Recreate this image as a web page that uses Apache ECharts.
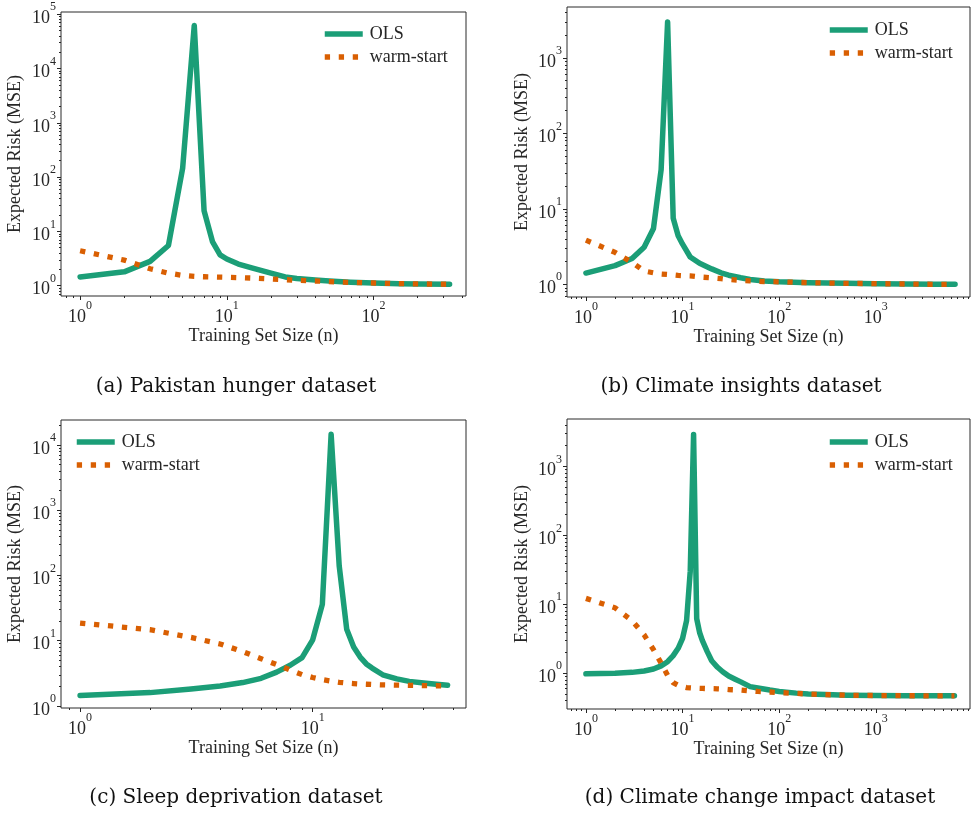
<!DOCTYPE html>
<html>
<head>
<meta charset="utf-8">
<script src="https://cdn.jsdelivr.net/npm/echarts@6/dist/echarts.min.js"></script>
<style>
  html, body { margin: 0; padding: 0; background: #ffffff; }
  #chart { width: 971px; height: 814px; }
</style>
</head>
<body>
<div id="chart"></div>
<script>
// ---- Expected risk (MSE) against training set size, four datasets ----

// (a) Pakistan hunger
const nPakistan    = [1, 2, 3, 4, 5, 6, 7, 8, 9, 10, 12, 15, 20, 25, 30, 40, 50, 70, 100, 150, 200, 330];
const olsPakistan  = [1.45, 1.8, 2.8, 5.5, 145, 62000, 24, 6.4, 3.7, 3.1, 2.5, 2.1, 1.7, 1.45, 1.36, 1.27, 1.22, 1.16, 1.12, 1.09, 1.08, 1.06];
const warmPakistan = [4.4, 2.95, 2.05, 1.7, 1.55, 1.48, 1.46, 1.45, 1.44, 1.43, 1.41, 1.38, 1.33, 1.29, 1.26, 1.22, 1.19, 1.15, 1.12, 1.09, 1.08, 1.06];

// (b) Climate insights
const nInsights    = [1, 2, 3, 4, 5, 6, 7, 8, 9, 10, 12, 15, 20, 25, 30, 40, 50, 70, 100, 200, 500, 1000, 2000, 4000, 6600];
const olsInsights  = [1.41, 1.77, 2.2, 3.1, 5.5, 33, 3000, 7.5, 4.4, 3.4, 2.3, 1.9, 1.6, 1.42, 1.32, 1.22, 1.16, 1.11, 1.08, 1.05, 1.03, 1.02, 1.01, 1.0, 1.0];
const warmInsights = [3.85, 2.65, 1.95, 1.5, 1.42, 1.37, 1.35, 1.33, 1.31, 1.3, 1.29, 1.25, 1.22, 1.19, 1.16, 1.13, 1.11, 1.09, 1.08, 1.05, 1.03, 1.02, 1.01, 1.0, 1.0];

// (c) Sleep deprivation
const nSleep    = [1, 2, 3, 4, 5, 6, 7, 8, 9, 10, 11, 12, 13, 14, 15, 16, 17, 18, 20, 23, 26, 30, 34, 38];
const olsSleep  = [1.45, 1.6, 1.82, 2.02, 2.28, 2.65, 3.3, 4.2, 5.5, 10.3, 36, 14500, 140, 15, 8, 5.6, 4.4, 3.8, 3.0, 2.6, 2.38, 2.25, 2.15, 2.07];
const warmSleep = [18.6, 14.7, 11.2, 8.9, 6.8, 5.3, 4.3, 3.55, 3.02, 2.73, 2.53, 2.4, 2.3, 2.24, 2.2, 2.17, 2.15, 2.13, 2.1, 2.08, 2.07, 2.05, 2.04, 2.03];

// (d) Climate change impact
const nImpact    = [1, 2, 3, 4, 5, 6, 7, 8, 9, 10, 11, 12, 13, 14, 15, 16, 18, 20, 23, 26, 30, 35, 40, 50, 60, 80, 100, 150, 200, 300, 500, 1000, 2000, 4000, 6500];
const olsImpact  = [0.98, 1.0, 1.03, 1.08, 1.15, 1.28, 1.47, 1.8, 2.3, 3.2, 5.8, 30, 2900, 6.2, 3.9, 3.0, 2.06, 1.52, 1.22, 1.05, 0.91, 0.82, 0.75, 0.64, 0.61, 0.57, 0.545, 0.515, 0.5, 0.49, 0.48, 0.475, 0.472, 0.47, 0.47];
const warmImpact = [12.2, 8.9, 5.8, 3.6, 2.2, 1.4, 0.93, 0.73, 0.67, 0.64, 0.62, 0.615, 0.61, 0.607, 0.605, 0.603, 0.6, 0.598, 0.595, 0.59, 0.58, 0.575, 0.57, 0.555, 0.545, 0.535, 0.525, 0.51, 0.5, 0.49, 0.48, 0.475, 0.472, 0.47, 0.47];

// Major (labelled) tick values
const xTicksPakistan = [1, 10, 100];
const yTicksPakistan = [1, 10, 100, 1000, 10000, 100000];
const xTicksInsights = [1, 10, 100, 1000];
const yTicksInsights = [1, 10, 100, 1000];
const xTicksSleep    = [1, 10];
const yTicksSleep    = [1, 10, 100, 1000, 10000];
const xTicksImpact   = [1, 10, 100, 1000];
const yTicksImpact   = [1, 10, 100, 1000];

const seriesNames = ['OLS', 'warm-start'];
const axisTitleX = 'Training Set Size (n)';
const axisTitleY = 'Expected Risk (MSE)';
const captions = [
  '(a) Pakistan hunger dataset',
  '(b) Climate insights dataset',
  '(c) Sleep deprivation dataset',
  '(d) Climate change impact dataset'
];

// ---- styling / layout ----
const FONT = '"Liberation Serif", "DejaVu Serif", serif';
const CAP_FONT = '"DejaVu Serif", "Liberation Serif", serif';
const INK = '#262626';
const GREEN = '#1b9e77';
const ORANGE = '#d95f02';

const panels = [
  { n: nPakistan, ols: olsPakistan, warm: warmPakistan, xTicks: xTicksPakistan, yTicks: yTicksPakistan,
    xRange: [0.741, 427], yRange: [0.646, 109600],
    grid: { left: 61, top: 12, width: 405, height: 284 }, yNameGap: 37,
    legend: { left: 322, top: 25 }, caption: { x: 236, y: 387 } },
  { n: nInsights, ols: olsInsights, warm: warmInsights, xTicks: xTicksInsights, yTicks: yTicksInsights,
    xRange: [0.637, 9420], yRange: [0.679, 4730],
    grid: { left: 567, top: 7, width: 403, height: 290 }, yNameGap: 36,
    legend: { left: 827, top: 21 }, caption: { x: 741, y: 387 } },
  { n: nSleep, ols: olsSleep, warm: warmSleep, xTicks: xTicksSleep, yTicks: yTicksSleep,
    xRange: [0.828, 45.6], yRange: [0.93, 24000],
    grid: { left: 61, top: 420, width: 405, height: 288 }, yNameGap: 37,
    legend: { left: 74, top: 433 }, caption: { x: 236, y: 798 } },
  { n: nImpact, ols: olsImpact, warm: warmImpact, xTicks: xTicksImpact, yTicks: yTicksImpact,
    xRange: [0.637, 9420], yRange: [0.303, 4880],
    grid: { left: 567, top: 419, width: 403, height: 290 }, yNameGap: 36,
    legend: { left: 827, top: 433 }, caption: { x: 760, y: 798 } }
];

// minor tick positions 2..9 x 10^k inside an axis range
function minorTicks(lo, hi) {
  const out = [];
  for (let e = Math.floor(Math.log10(lo)); e <= Math.ceil(Math.log10(hi)); e++) {
    for (let m = 2; m <= 9; m++) {
      const v = m * Math.pow(10, e);
      if (v > lo && v < hi) out.push(v);
    }
  }
  return out;
}

function powLabel(v) {
  const e = Math.round(Math.log10(v));
  return '{b|10}{s|' + e + '}';
}
const richPow = {
  b: { fontFamily: FONT, fontSize: 18, lineHeight: 26, color: INK, verticalAlign: 'bottom' },
  s: { fontFamily: FONT, fontSize: 12, lineHeight: 12, color: INK, verticalAlign: 'top' }
};
const tickLine = { color: INK, width: 1 };

const grids = [], xAxes = [], yAxes = [], series = [], legends = [], graphics = [];

panels.forEach((p, i) => {
  grids.push(Object.assign({
    show: true, borderColor: '#2b2b2b', borderWidth: 1, backgroundColor: 'transparent',
    containLabel: false, outerBoundsMode: 'none'
  }, p.grid));

  const xi = xAxes.length, yi = yAxes.length;

  // labelled major axes
  xAxes.push({
    type: 'log', logBase: 10, gridIndex: i, min: p.xRange[0], max: p.xRange[1], position: 'bottom',
    name: axisTitleX, nameLocation: 'middle', nameGap: 27,
    nameTextStyle: { fontFamily: FONT, fontSize: 18, color: INK },
    axisLine: { show: false }, splitLine: { show: false },
    minorTick: { show: false }, minorSplitLine: { show: false },
    axisTick: { show: true, customValues: p.xTicks, length: 4, inside: false, lineStyle: tickLine },
    axisLabel: { show: true, customValues: p.xTicks, formatter: powLabel, rich: richPow, margin: 4,
                 hideOverlap: false }
  });
  yAxes.push({
    type: 'log', logBase: 10, gridIndex: i, min: p.yRange[0], max: p.yRange[1], position: 'left',
    name: axisTitleY, nameLocation: 'middle', nameGap: p.yNameGap, nameRotate: 90,
    nameTextStyle: { fontFamily: FONT, fontSize: 18, color: INK },
    axisLine: { show: false }, splitLine: { show: false },
    minorTick: { show: false }, minorSplitLine: { show: false },
    axisTick: { show: true, customValues: p.yTicks, length: 4, inside: false, lineStyle: tickLine },
    axisLabel: { show: true, customValues: p.yTicks, formatter: powLabel, rich: richPow, margin: 5,
                 hideOverlap: false }
  });
  // unlabelled minor-tick axes sharing the same scale
  xAxes.push({
    type: 'log', logBase: 10, gridIndex: i, min: p.xRange[0], max: p.xRange[1], position: 'bottom',
    axisLine: { show: false }, splitLine: { show: false }, axisLabel: { show: false },
    axisTick: { show: true, customValues: minorTicks(p.xRange[0], p.xRange[1]), length: 2, inside: false, lineStyle: tickLine }
  });
  yAxes.push({
    type: 'log', logBase: 10, gridIndex: i, min: p.yRange[0], max: p.yRange[1], position: 'left',
    axisLine: { show: false }, splitLine: { show: false }, axisLabel: { show: false },
    axisTick: { show: true, customValues: minorTicks(p.yRange[0], p.yRange[1]), length: 2, inside: false, lineStyle: tickLine }
  });

  series.push({
    type: 'line', name: seriesNames[0], xAxisIndex: xi, yAxisIndex: yi,
    data: p.n.map((n, k) => [n, p.ols[k]]),
    symbol: 'none', showSymbol: false, silent: true, z: 2,
    itemStyle: { color: GREEN },
    lineStyle: { color: GREEN, width: 5.5, join: 'round', cap: 'round' }
  });
  series.push({
    type: 'line', name: seriesNames[1], xAxisIndex: xi, yAxisIndex: yi,
    data: p.n.map((n, k) => [n, p.warm[k]]),
    symbol: 'none', showSymbol: false, silent: true, z: 3,
    itemStyle: { color: ORANGE },
    lineStyle: { color: ORANGE, width: 5.3, type: [5.3, 8.7], cap: 'butt', join: 'miter' }
  });

  legends.push({
    data: seriesNames, orient: 'vertical', left: p.legend.left, top: p.legend.top,
    padding: 0, itemWidth: 38, itemHeight: 12, itemGap: 5,
    selectedMode: false,
    itemStyle: { opacity: 0, borderWidth: 0 },
    lineStyle: { width: 'inherit', type: 'inherit', cap: 'butt', opacity: 1 },
    textStyle: { fontFamily: FONT, fontSize: 18, color: INK, padding: [0, 0, 0, 2] }
  });

  graphics.push({
    type: 'text', x: p.caption.x, y: p.caption.y, silent: true,
    style: { text: captions[i], fontFamily: CAP_FONT, fontSize: 20, fill: '#111',
             textAlign: 'center', textVerticalAlign: 'middle', verticalAlign: 'middle' }
  });
});

const chart = echarts.init(document.getElementById('chart'), null, { renderer: 'canvas' });
chart.setOption({
  animation: false,
  backgroundColor: '#ffffff',
  grid: grids,
  xAxis: xAxes,
  yAxis: yAxes,
  legend: legends,
  series: series,
  graphic: graphics
});
</script>
</body>
</html>
